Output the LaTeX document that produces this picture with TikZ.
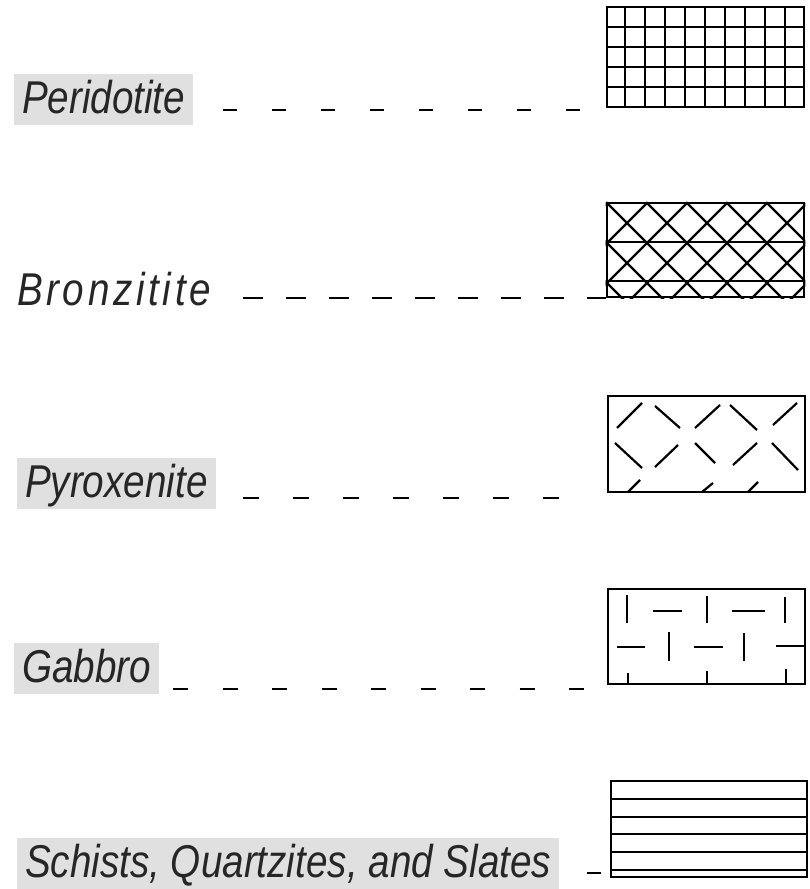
\documentclass[tikz,border=0pt]{standalone}
\usepackage{fontspec}
\newfontfamily\rockfont{Liberation Sans}[FakeStretch=0.84]
\usetikzlibrary{positioning}

\begin{document}
\begin{tikzpicture}[x=1pt, y=-1pt,
  rockname/.style={font=\rockfont\itshape\fontsize{46}{50}\selectfont, text=black!85,
    inner xsep=8pt, inner ysep=3pt, text height=36pt, text depth=9pt},
  paste/.style={rockname, fill=black!12},
  legendbox/.style={draw, line width=2.6pt, inner sep=0pt},
  hatch/.style={line width=2.2pt},
  leader/.style={line width=2pt, dash pattern=on 14pt off 35pt}]
  \useasboundingbox (0,0) rectangle (809,889);

  % rock names
  \node[paste, anchor=text] (perid) at (22,113) {Peridotite};
  \node[rockname, anchor=text, font=\rockfont\itshape\fontsize{46}{50}\selectfont\addfontfeature{LetterSpace=8}]
    (bronz) at (17,305) {Bronzitite};
  \node[paste, anchor=text] (pyrox) at (25,497) {Pyroxenite};
  \node[paste, anchor=text] (gabbro) at (22,682) {Gabbro};
  \node[paste, anchor=text] (schist) at (25,877) {Schists, Quartzites, and Slates};

  % legend boxes
  \node[legendbox, minimum width=197pt, minimum height=100pt] (peribox) at (705.5,57) {};
  \node[legendbox, minimum width=197pt, minimum height=94pt] (bronbox) at (705.5,250) {};
  \node[legendbox, minimum width=197pt, minimum height=96pt] (pyrobox) at (706.5,444) {};
  \node[legendbox, minimum width=197pt, minimum height=95pt] (gabbbox) at (706.5,636.5) {};
  \node[legendbox, minimum width=196pt, minimum height=96pt] (schibox) at (709,829) {};

  % leaders
  \coordinate (p1) at (223,110);  \coordinate (p2) at (580,110);
  \coordinate (b1) at (243,298);  \coordinate (b2) at (bronbox.west |- b1);
  \coordinate (y1) at (243,498);  \coordinate (y2) at (559,498);
  \coordinate (g1) at (173,689);  \coordinate (g2) at (584,689);
  \coordinate (s1) at (587,873);  \coordinate (s2) at (601,873);
  \draw[leader] (p1) -- (p2);
  \draw[leader, dash pattern=on 20pt off 23pt] (b1) -- (b2);
  \draw[leader, dash pattern=on 16pt off 34pt] (y1) -- (y2);
  \draw[leader, dash pattern=on 15pt off 34.5pt] (g1) -- (g2);
  \draw[leader, dash pattern=on 14pt off 10pt] (s1) -- (s2);

  % peridotite: square grid
  \foreach \x in {625,645,...,785}
    \draw[hatch] (\x,7) -- (\x,107);
  \foreach \y in {27,47,67,87}
    \draw[hatch] (607,\y) -- (804,\y);

  % bronzitite: diagonal net
  \begin{scope}
    \clip (bronbox.south west) rectangle (bronbox.north east);
    \foreach \a in {527,567,...,887}
      \draw[hatch] (\a-100,303) -- (\a,203) -- (\a+100,303);
    \draw[hatch] (607,242) -- (804,242);
    \draw[hatch] (607,281) -- (804,281);
  \end{scope}

  % pyroxenite: broken diagonals
  \foreach \xa/\ya/\xb/\yb in {617/428/642/403, 655/406/680/428, 695/428/720/405,
      730/405/757/430, 773/425/797/403, 615/443/642/468, 655/467/678/445,
      695/443/715/463, 733/465/757/443, 772/443/798/470,
      628/492/640/480, 702/492/713/483, 748/492/758/482}
    \draw[hatch] (\xa,\ya) -- (\xb,\yb);

  % gabbro: bricks of dashes
  \foreach \xa/\ya/\xb/\yb in {627/595/627/623, 653/611/682/611, 707/596/707/623,
      732/611/765/611, 785/597/785/623, 617/647/645/647, 669/632/669/661,
      694/647/723/647, 744/633/744/661, 776/646/804/646,
      628/673/628/684, 707/671/707/684, 786/669/786/684}
    \draw[hatch] (\xa,\ya) -- (\xb,\yb);

  % schists: horizontal bands
  \foreach \y in {799,817,834,852,870}
    \draw[hatch] (611,\y) -- (807,\y);
\end{tikzpicture}
\end{document}
